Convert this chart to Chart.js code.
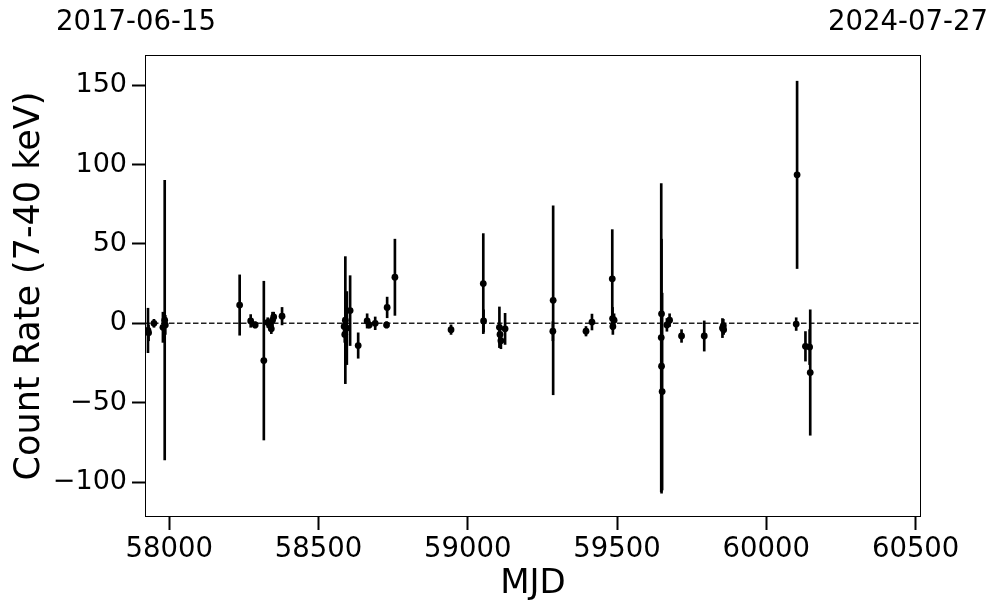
<!DOCTYPE html>
<html>
<head>
<meta charset="utf-8">
<script src="https://cdn.jsdelivr.net/npm/chart.js@4.4.1/dist/chart.umd.min.js"></script>
<style>
  html, body { margin: 0; padding: 0; background: #fff; }
  #wrap { width: 997px; height: 613px; }
</style>
</head>
<body>
<div id="wrap"><canvas id="c" width="997" height="613"></canvas></div>
<script>
// ---- data ----
const mjd  = [57929, 57931, 57949, 57979, 57985, 57987, 58236, 58273, 58288, 58317,
              58330, 58338, 58342, 58346, 58350, 58378, 58586, 58588, 58590, 58595,
              58606, 58633, 58663, 58670, 58690, 58728, 58730, 58756, 58944, 59052,
              59053, 59106, 59108, 59111, 59125, 59286, 59285, 59396, 59416, 59484,
              59485, 59486, 59490, 59649, 59648, 59649, 59651, 59667, 59676, 59716,
              59792, 59853, 59856, 59857, 60100, 60103, 60131, 60145, 60147];
const rate = [-4.5, -6, 0, -2.5, 2, -1, 11.5, 1.5, -1, -23.5,
              0.5, -1.5, -3.5, 2, 4, 4.5, -2, -7, 2, -3,
              8, -14, 1.5, -1, 0, -1, 10, 29, -4, 25,
              1.5, -2.5, -7, -11, -3.5, 14.5, -5, -5, 0.8, 28,
              3, -2, 2, 6, -9, -27, -43, -1, 2, -8,
              -8, -3, -1.5, -4, -0.5, 93.5, -14.5, -15, -31];
const err  = [14, 5, 2.5, 9.5, 88, 6, 19, 4, 2, 50,
              3, 3, 3, 5, 3, 5.5, 4, 5, 40, 23,
              22, 8, 4.5, 2, 4, 2, 6.5, 24, 3, 31.5,
              7, 12.8, 6, 5, 9.8, 59.5, 6, 3, 5, 31,
              7, 5, 4, 12, 97, 80, 62, 4, 4, 4,
              9.5, 6, 4, 3, 4, 59, 9.3, 11, 39.5];
const xTicks = [58000, 58500, 59000, 59500, 60000, 60500];
const yTicks = [-100, -50, 0, 50, 100, 150];
const xRange = [57919, 60518];          // MJD of the two dates below
const yRange = [-122, 169];
const dateLabels = ['2017-06-15', '2024-07-27'];
const xTitle = 'MJD';
const yTitle = 'Count Rate (7-40 keV)';

const FONT = 'DejaVu Sans';

const framePlugin = {
  id: 'frame',
  afterDraw(chart) {
    const {ctx, chartArea: a} = chart;
    ctx.save();
    ctx.strokeStyle = '#000';
    ctx.lineWidth = 1;
    ctx.strokeRect(Math.round(a.left) + 0.5, Math.round(a.top) + 0.5,
                   Math.round(a.right - a.left) - 1, Math.round(a.bottom - a.top) - 1);
    // date labels at the top corners
    ctx.fillStyle = '#000';
    ctx.font = '27.5px "' + FONT + '"';
    ctx.textAlign = 'center';
    ctx.textBaseline = 'middle';
    ctx.fillText(dateLabels[0], a.left - 9, 23);
    ctx.fillText(dateLabels[1], a.right - 13, 23);
    ctx.restore();
  }
};

const fmt = v => (v < 0 ? '\u2212' + Math.abs(v) : String(v));

new Chart(document.getElementById('c'), {
  type: 'scatter',
  data: {
    datasets: [
      {
        type: 'line',
        data: [{x: xRange[0], y: 0}, {x: xRange[1], y: 0}],
        borderColor: '#222',
        borderWidth: 1.5,
        borderDash: [5.5, 2.5],
        pointRadius: 0,
        order: 3
      },
      {
        type: 'bar',
        data: mjd.map((m, i) => ({x: m, y: [rate[i] - err[i], rate[i] + err[i]]})),
        backgroundColor: '#000',
        borderWidth: 0,
        barThickness: 2,
        grouped: false,
        order: 2
      },
      {
        type: 'scatter',
        data: mjd.map((m, i) => ({x: m, y: rate[i]})),
        backgroundColor: '#000',
        borderColor: '#000',
        borderWidth: 0,
        pointRadius: 3.4,
        order: 1
      }
    ]
  },
  options: {
    responsive: false,
    animation: false,
    devicePixelRatio: 1,
    layout: { padding: { top: 55, right: 76, left: 0, bottom: 0 } },
    plugins: { legend: { display: false }, tooltip: { enabled: false } },
    scales: {
      x: {
        type: 'linear',
        min: xRange[0], max: xRange[1],
        offset: false,
        afterBuildTicks: s => { s.ticks = xTicks.map(v => ({value: v})); },
        afterFit: s => { s.height = 96; },
        border: { display: false },
        grid: { offset: false, drawOnChartArea: false, drawTicks: true, tickLength: 13, tickWidth: 2, tickColor: '#000' },
        ticks: { color: '#000', font: { family: FONT, size: 27.5, lineHeight: 1 }, padding: 6,
                 maxRotation: 0, autoSkip: false, callback: v => String(v) },
        title: { display: true, text: xTitle, color: '#000',
                 font: { family: FONT, size: 34, lineHeight: 1 }, padding: { top: 0, bottom: 12 } }
      },
      y: {
        type: 'linear',
        min: yRange[0], max: yRange[1],
        afterBuildTicks: s => { s.ticks = yTicks.map(v => ({value: v})); },
        afterFit: s => { s.width = 145; },
        border: { display: false },
        grid: { offset: false, drawOnChartArea: false, drawTicks: true, tickLength: 13, tickWidth: 2, tickColor: '#000' },
        ticks: { color: '#000', font: { family: FONT, size: 27 }, padding: 5, callback: v => fmt(v) },
        title: { display: true, text: yTitle, color: '#000',
                 font: { family: FONT, size: 35, lineHeight: 1 }, padding: { top: 12, bottom: 0 } }
      }
    }
  },
  plugins: [framePlugin]
});
</script>
</body>
</html>
